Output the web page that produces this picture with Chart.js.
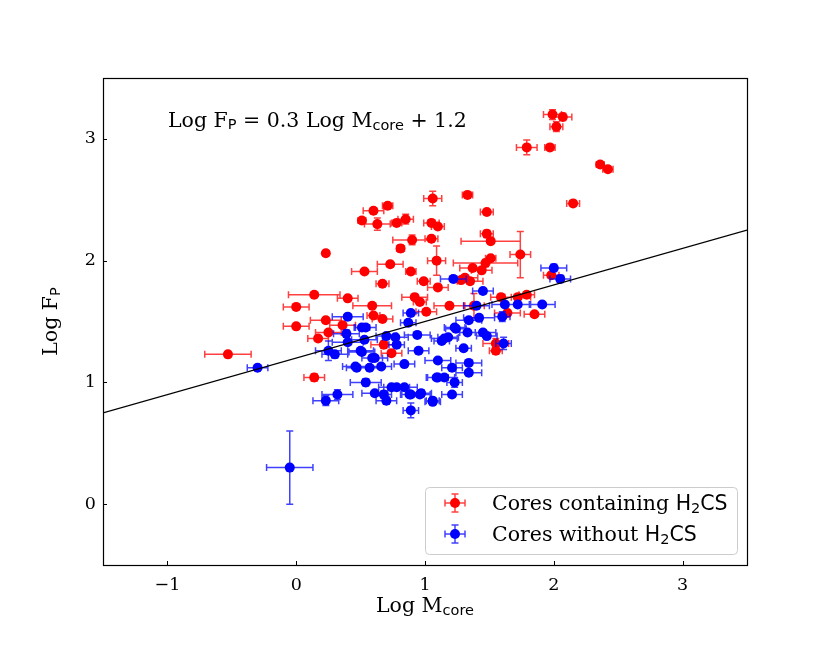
<!DOCTYPE html>
<html>
<head>
<meta charset="utf-8">
<script src="https://cdn.jsdelivr.net/npm/chart.js@4.4.1/dist/chart.umd.min.js"></script>
<style>
html,body{margin:0;padding:0;background:#fff;}
#wrap{width:830px;height:646px;}
</style>
</head>
<body>
<div id="wrap"><canvas id="c" width="830" height="646"></canvas></div>
<script>
// ---- data ----
const redX = [-0.53,1.99,2.07,2.02,1.79,1.97,2.36,2.42,2.15,0.71,0.60,0.51,0.63,0.78,0.85,0.23,0.81,0.90,1.06,1.33,1.05,1.10,1.48,1.05,1.48,1.51,1.74,1.09,1.51,1.47,0.89,0.73,0.53,0.67,1.37,1.44,1.31,1.28,1.35,0.99,1.10,1.98,0.14,0.40,0.59,0.00,0.60,0.67,0.23,0.36,0.00,0.92,0.96,1.01,1.19,1.38,1.59,1.72,1.79,1.64,1.85,1.55,1.55,0.68,0.74,0.14,0.25,0.17];
const redY = [1.23,3.20,3.18,3.10,2.93,2.93,2.79,2.75,2.47,2.45,2.41,2.33,2.30,2.31,2.34,2.06,2.10,2.17,2.51,2.54,2.31,2.28,2.40,2.18,2.22,2.16,2.05,2.00,2.02,1.98,1.91,1.97,1.91,1.81,1.94,1.92,1.86,1.84,1.83,1.83,1.78,1.88,1.72,1.69,1.63,1.62,1.55,1.52,1.51,1.47,1.46,1.70,1.66,1.58,1.63,1.63,1.70,1.70,1.72,1.57,1.56,1.32,1.26,1.31,1.24,1.04,1.41,1.36];
const redXerr = [0.18,0.07,0.07,0.05,0.08,0.04,0.03,0.04,0.05,0.04,0.08,0.03,0.10,0.04,0.06,0.02,0.03,0.15,0.07,0.04,0.06,0.05,0.05,0.05,0.05,0.23,0.08,0.07,0.04,0.25,0.04,0.10,0.10,0.05,0.10,0.08,0.10,0.05,0.10,0.05,0.08,0.06,0.20,0.08,0.15,0.10,0.05,0.08,0.12,0.10,0.10,0.10,0.05,0.08,0.12,0.08,0.08,0.10,0.06,0.10,0.08,0.10,0.05,0.10,0.08,0.08,0.10,0.08];
const redYerr = [0.02,0.04,0.03,0.04,0.06,0.01,0.01,0.01,0.01,0.01,0.02,0.01,0.05,0.01,0.04,0.01,0.03,0.04,0.06,0.01,0.02,0.01,0.01,0.02,0.03,0.02,0.19,0.12,0.02,0.03,0.01,0.02,0.01,0.01,0.02,0.02,0.02,0.02,0.02,0.02,0.02,0.02,0.01,0.01,0.01,0.01,0.02,0.02,0.02,0.02,0.02,0.02,0.02,0.02,0.02,0.10,0.02,0.02,0.02,0.02,0.02,0.04,0.03,0.03,0.02,0.03,0.02,0.02];

const blueX = [-0.30,-0.05,0.40,0.25,0.30,0.47,0.57,0.54,0.32,0.23,0.51,0.53,0.40,0.51,0.59,0.89,0.87,0.54,0.39,0.70,0.77,0.94,0.50,0.61,0.78,0.95,0.46,0.66,0.70,0.74,0.78,0.84,0.61,0.89,0.97,0.89,1.06,1.09,1.22,2.00,2.05,1.45,1.40,1.62,1.72,1.91,1.60,1.42,1.34,1.23,1.24,1.33,1.45,1.48,1.15,1.18,1.13,1.61,1.30,1.10,0.84,1.34,1.34,1.21,1.10,1.15,1.23,0.68,0.88,0.96,1.21,1.06];
const blueY = [1.12,0.30,1.54,1.26,1.23,1.12,1.12,1.00,0.90,0.85,1.45,1.35,1.33,1.25,1.20,1.57,1.49,1.45,1.40,1.38,1.37,1.39,1.26,1.20,1.31,1.26,1.13,1.13,0.85,0.96,0.96,0.96,0.91,0.90,0.91,0.77,0.84,1.04,1.85,1.94,1.85,1.75,1.63,1.64,1.64,1.64,1.54,1.53,1.51,1.45,1.44,1.41,1.41,1.38,1.36,1.37,1.34,1.32,1.28,1.18,1.15,1.16,1.08,1.12,1.04,1.04,1.00,0.90,0.90,0.90,0.90,0.85];
const blueXerr = [0.08,0.18,0.12,0.10,0.10,0.08,0.10,0.12,0.12,0.10,0.06,0.10,0.12,0.10,0.08,0.06,0.06,0.08,0.10,0.08,0.10,0.10,0.10,0.10,0.06,0.08,0.10,0.08,0.08,0.10,0.10,0.10,0.10,0.08,0.08,0.06,0.06,0.08,0.10,0.10,0.08,0.08,0.10,0.10,0.10,0.10,0.06,0.12,0.10,0.08,0.08,0.06,0.10,0.08,0.10,0.08,0.06,0.06,0.06,0.10,0.08,0.10,0.10,0.08,0.08,0.08,0.06,0.06,0.06,0.08,0.08,0.05];
const blueYerr = [0.02,0.30,0.02,0.08,0.03,0.02,0.02,0.03,0.04,0.04,0.02,0.02,0.02,0.02,0.02,0.02,0.02,0.02,0.03,0.02,0.02,0.02,0.02,0.02,0.02,0.02,0.02,0.02,0.03,0.02,0.02,0.02,0.02,0.02,0.03,0.06,0.02,0.02,0.01,0.03,0.03,0.02,0.02,0.02,0.02,0.02,0.04,0.02,0.02,0.02,0.02,0.02,0.02,0.02,0.02,0.02,0.02,0.05,0.02,0.02,0.02,0.02,0.02,0.02,0.02,0.02,0.04,0.03,0.02,0.02,0.02,0.02];

const fitX = [-1.5, 3.5];
const fitSlope = 0.3, fitIntercept = 1.2;
const xTicks = [-1, 0, 1, 2, 3];
const yTicks = [0, 1, 2, 3];
const legendLabels = ['Cores containing ', 'Cores without '];

// ---- helpers ----
const SERIF = '"DejaVu Serif", serif';
const SANS = '"DejaVu Sans", sans-serif';
function pts(xs, ys){ return xs.map((x,i)=>({x:x, y:ys[i]})); }

function drawRuns(ctx, runs, x, y){
  let cx = x;
  runs.forEach(r=>{
    ctx.font = r[1];
    ctx.fillText(r[0], cx, y + (r[2]||0));
    cx += ctx.measureText(r[0]).width;
  });
  return cx - x;
}
function runsWidth(ctx, runs){
  let w = 0;
  runs.forEach(r=>{ ctx.font = r[1]; w += ctx.measureText(r[0]).width; });
  return w;
}

const errColors = ['rgba(255,0,0,0.75)','rgba(0,0,255,0.75)'];
const errSets = [[redX,redY,redXerr,redYerr],[blueX,blueY,blueXerr,blueYerr]];
const CAP = 3.5;

const errorBarPlugin = {
  id: 'errbars',
  beforeDatasetDraw(chart, args){
    const idx = args.index;
    if (idx > 1) return;
    const ctx = chart.ctx, xs = chart.scales.x, ys = chart.scales.y;
    const [X,Y,XE,YE] = errSets[idx];
    ctx.save();
    ctx.beginPath();
    ctx.rect(chart.chartArea.left, chart.chartArea.top, chart.chartArea.width, chart.chartArea.height);
    ctx.clip();
    ctx.strokeStyle = errColors[idx];
    ctx.lineWidth = 1.5;
    ctx.beginPath();
    for (let i=0;i<X.length;i++){
      const px = xs.getPixelForValue(X[i]), py = ys.getPixelForValue(Y[i]);
      const x1 = xs.getPixelForValue(X[i]-XE[i]), x2 = xs.getPixelForValue(X[i]+XE[i]);
      const y1 = ys.getPixelForValue(Y[i]-YE[i]), y2 = ys.getPixelForValue(Y[i]+YE[i]);
      ctx.moveTo(x1,py); ctx.lineTo(x2,py);
      ctx.moveTo(x1,py-CAP); ctx.lineTo(x1,py+CAP);
      ctx.moveTo(x2,py-CAP); ctx.lineTo(x2,py+CAP);
      ctx.moveTo(px,y1); ctx.lineTo(px,y2);
      ctx.moveTo(px-CAP,y1); ctx.lineTo(px+CAP,y1);
      ctx.moveTo(px-CAP,y2); ctx.lineTo(px+CAP,y2);
    }
    ctx.stroke();
    ctx.restore();
  }
};

const decorPlugin = {
  id: 'decor',
  afterDraw(chart){
    const ctx = chart.ctx, a = chart.chartArea, xs = chart.scales.x, ys = chart.scales.y;
    ctx.save();
    ctx.strokeStyle = '#000'; ctx.lineWidth = 1.2;
    ctx.strokeRect(Math.round(a.left)+0.5, Math.round(a.top)+0.5, Math.round(a.width), Math.round(a.height));
    ctx.lineWidth = 1;
    ctx.beginPath();
    xs.ticks.forEach(t=>{
      const p = Math.round(xs.getPixelForValue(t.value))+0.5;
      ctx.moveTo(p, a.bottom); ctx.lineTo(p, a.bottom-4);
    });
    ys.ticks.forEach(t=>{
      const p = Math.round(ys.getPixelForValue(t.value))+0.5;
      ctx.moveTo(a.left, p); ctx.lineTo(a.left+4, p);
    });
    ctx.stroke();

    ctx.fillStyle = '#000';
    ctx.textBaseline = 'alphabetic';
    ctx.textAlign = 'left';
    drawRuns(ctx, [
      ['Log F', '20.5px '+SERIF, 0],
      ['P', '14.5px '+SANS, 2],
      [' = 0.3 Log M', '20.5px '+SERIF, 0],
      ['core', '14.5px '+SANS, 3],
      [' + 1.2', '20.5px '+SERIF, 0]
    ], 168, 127);

    const xr = [['Log M','20.5px '+SERIF,0],['core','14.5px '+SANS,3]];
    const xw = runsWidth(ctx, xr);
    drawRuns(ctx, xr, (a.left+a.right)/2 - xw/2, 612);
    const yr = [['Log F','20.5px '+SERIF,0],['P','14.5px '+SANS,3]];
    const yw = runsWidth(ctx, yr);
    ctx.save();
    ctx.translate(57, (a.top+a.bottom)/2 + yw/2);
    ctx.rotate(-Math.PI/2);
    drawRuns(ctx, yr, 0, 0);
    ctx.restore();

    const bx = 425, by = 487, bw = 312, bh = 67;
    ctx.beginPath();
    ctx.roundRect(bx+0.5, by+0.5, bw, bh, 4);
    ctx.fillStyle = 'rgba(255,255,255,0.8)';
    ctx.fill();
    ctx.strokeStyle = '#cccccc'; ctx.lineWidth = 1;
    ctx.stroke();
    const cols = ['#ff0000','#0000ff'];
    [503, 534].forEach((cy, i)=>{
      const mx = 455;
      ctx.strokeStyle = errColors[i]; ctx.lineWidth = 1.5;
      ctx.beginPath();
      ctx.moveTo(mx-10, cy); ctx.lineTo(mx+10, cy);
      ctx.moveTo(mx-10, cy-CAP); ctx.lineTo(mx-10, cy+CAP);
      ctx.moveTo(mx+10, cy-CAP); ctx.lineTo(mx+10, cy+CAP);
      ctx.moveTo(mx, cy-9); ctx.lineTo(mx, cy+9);
      ctx.moveTo(mx-CAP, cy-9); ctx.lineTo(mx+CAP, cy-9);
      ctx.moveTo(mx-CAP, cy+9); ctx.lineTo(mx+CAP, cy+9);
      ctx.stroke();
      ctx.fillStyle = cols[i];
      ctx.beginPath(); ctx.arc(mx, cy, 5, 0, Math.PI*2); ctx.fill();
      ctx.fillStyle = '#000';
      drawRuns(ctx, [
        [legendLabels[i], '20.5px '+SERIF, 0],
        ['H', '20.5px '+SANS, 0],
        ['2', '14.5px '+SANS, 3],
        ['CS', '20.5px '+SANS, 0]
      ], 492, cy+7);
    });
    ctx.restore();
  }
};

new Chart(document.getElementById('c'), {
  type: 'scatter',
  data: {
    datasets: [
      { label: 'Cores containing H2CS', data: pts(redX, redY), backgroundColor: '#ff0000', borderColor: '#ff0000',
        pointRadius: 5, pointBorderWidth: 0, order: 3 },
      { label: 'Cores without H2CS', data: pts(blueX, blueY), backgroundColor: '#0000ff', borderColor: '#0000ff',
        pointRadius: 5, pointBorderWidth: 0, order: 2 },
      { type: 'line', label: 'fit', data: fitX.map(x=>({x:x, y: fitSlope*x + fitIntercept})),
        borderColor: '#000', borderWidth: 1.3, pointRadius: 0, fill: false, order: 1 }
    ]
  },
  options: {
    responsive: false,
    animation: false,
    devicePixelRatio: 1,
    layout: { padding: { top: 78, right: 83, left: 0, bottom: 0 } },
    plugins: { legend: { display: false }, tooltip: { enabled: false } },
    scales: {
      x: {
        type: 'linear', min: -1.5, max: 3.5,
        afterBuildTicks: s => { s.ticks = xTicks.map(v=>({value:v})); },
        afterFit: s => { s.height = 81; },
        grid: { display: false, drawTicks: false },
        border: { display: false },
        ticks: { color: '#000', padding: 10, font: { family: 'DejaVu Serif', size: 17.5 },
          callback: v => (v < 0 ? '\u2212' + Math.abs(v) : String(v)) }
      },
      y: {
        type: 'linear', min: -0.5, max: 3.5,
        afterBuildTicks: s => { s.ticks = yTicks.map(v=>({value:v})); },
        afterFit: s => { s.width = 103; },
        grid: { display: false, drawTicks: false },
        border: { display: false },
        ticks: { color: '#000', padding: 7, font: { family: 'DejaVu Serif', size: 17.5 },
          callback: v => String(v) }
      }
    }
  },
  plugins: [errorBarPlugin, decorPlugin]
});
</script>
</body>
</html>
